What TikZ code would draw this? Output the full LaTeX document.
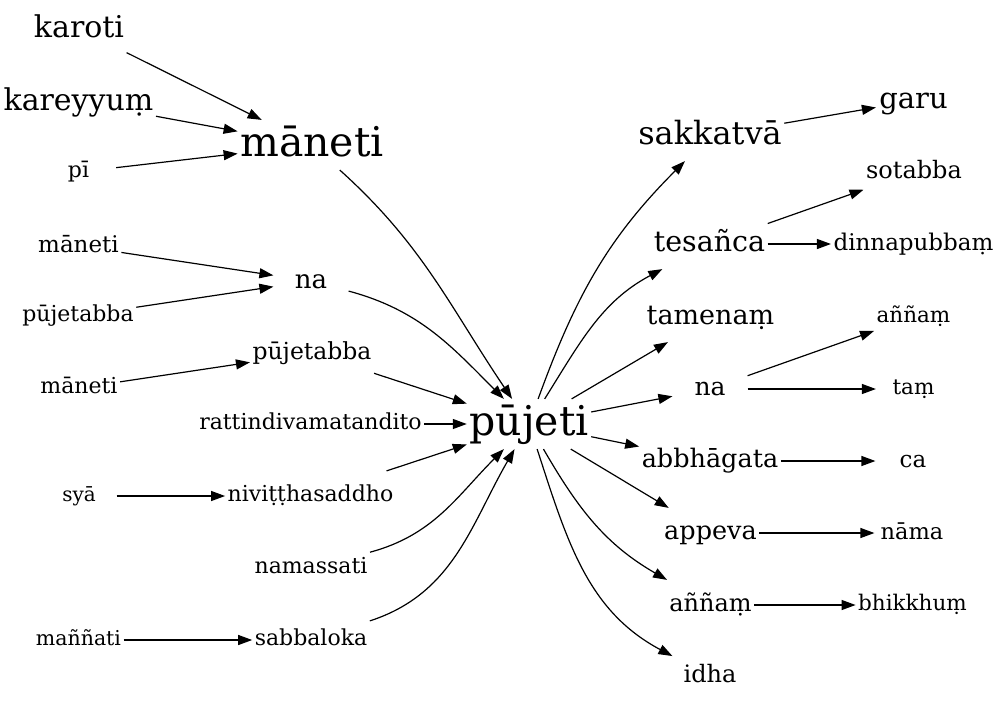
\documentclass[tikz,border=0pt]{standalone}
\usepackage{fontspec}
\setmainfont{DejaVu Serif}
\usetikzlibrary{arrows.meta}
\tikzset{
  wd/.style={font=\fontsize{#1}{#1}\selectfont, text height=#1*0.77pt, text depth=#1*0.23pt,
    minimum width=74pt, minimum height=49pt, inner xsep=2pt, inner ysep=0pt},
  dep/.style={-{Triangle[length=14pt, width=10pt]}},
}
\begin{document}
\begin{tikzpicture}[x=1pt, y=1pt, line width=1.2pt]
\useasboundingbox (0,0) rectangle (1000,-707);
\node[wd=30] (karoti) at (79,-29) {karoti};
\node[wd=30] (kareyyum) at (78.5,-102) {kareyyuṃ};
\node[wd=22] (pi) at (78.5,-172) {pī};
\node[wd=41] (maneti) at (312,-145) {māneti};
\node[wd=23] (maneti1) at (78.5,-246) {māneti};
\node[wd=26] (na1) at (311,-281) {na};
\node[wd=22] (pujetabba1) at (78,-316) {pūjetabba};
\node[wd=23.5] (pujetabba2) at (312,-353) {pūjetabba};
\node[wd=22] (maneti2) at (79,-388) {māneti};
\node[wd=22] (ratti) at (310.5,-424) {rattindivamatandito};
\node[wd=41] (pujeti) at (529,-424) {pūjeti};
\node[wd=20] (sya) at (79,-496) {syā};
\node[wd=22] (nivittha) at (310.5,-496) {niviṭṭhasaddho};
\node[wd=22] (namassati) at (311,-568) {namassati};
\node[wd=20.5] (mannati) at (78.5,-640) {maññati};
\node[wd=22] (sabbaloka) at (311,-640) {sabbaloka};
\node[wd=32] (sakkatva) at (710,-136) {sakkatvā};
\node[wd=29] (garu) at (913.5,-101) {garu};
\node[wd=24] (sotabba) at (914,-172) {sotabba};
\node[wd=28.5] (tesanca) at (709.5,-244) {tesañca};
\node[wd=23] (dinna) at (913.5,-244) {dinnapubbaṃ};
\node[wd=27] (tamenam) at (710.5,-317) {tamenaṃ};
\node[wd=21.5] (annam1) at (913.5,-317) {aññaṃ};
\node[wd=25] (na2) at (710,-389) {na};
\node[wd=21.5] (tam) at (913.5,-389) {taṃ};
\node[wd=25.5] (abbhagata) at (710,-461) {abbhāgata};
\node[wd=23] (ca) at (913,-461) {ca};
\node[wd=25.5] (appeva) at (710.5,-533) {appeva};
\node[wd=22.5] (nama) at (912,-533) {nāma};
\node[wd=24] (annam2) at (710.5,-605) {aññaṃ};
\node[wd=21.5] (bhikkhum) at (912.5,-605) {bhikkhuṃ};
\node[wd=24] (idha) at (710,-676) {idha};
\draw[dep] (karoti) -- (maneti);
\draw[dep] (kareyyum) -- (maneti);
\draw[dep] (pi) -- (maneti);
\draw[dep] (maneti) to[out=-42, in=124] (pujeti);
\draw[dep] (maneti1) -- (na1);
\draw[dep] (pujetabba1) -- (na1);
\draw[dep] (na1) to[out=-15, in=135] (pujeti);
\draw[dep] (maneti2) -- (pujetabba2);
\draw[dep] (pujetabba2) -- (pujeti);
\draw[dep] (ratti) -- (pujeti);
\draw[dep] (sya) -- (nivittha);
\draw[dep] (nivittha) -- (pujeti);
\draw[dep] (namassati) to[out=15, in=225] (pujeti);
\draw[dep] (mannati) -- (sabbaloka);
\draw[dep] (sabbaloka) to[out=18, in=240] (pujeti);
\draw[dep] (pujeti) to[out=70, in=225] (sakkatva);
\draw[dep] (sakkatva) -- (garu);
\draw[dep] (pujeti) to[out=58, in=208] (tesanca);
\draw[dep] (tesanca) -- (sotabba);
\draw[dep] (tesanca) -- (dinna);
\draw[dep] (pujeti) -- (tamenam);
\draw[dep] (pujeti) -- (na2);
\draw[dep] (na2) -- (annam1);
\draw[dep] (na2) -- (tam);
\draw[dep] (pujeti) -- (abbhagata);
\draw[dep] (abbhagata) -- (ca);
\draw[dep] (pujeti) -- (appeva);
\draw[dep] (appeva) -- (nama);
\draw[dep] (pujeti) to[out=-60, in=150] (annam2);
\draw[dep] (annam2) -- (bhikkhum);
\draw[dep] (pujeti) to[out=-72, in=152] (idha);
\end{tikzpicture}
\end{document}
